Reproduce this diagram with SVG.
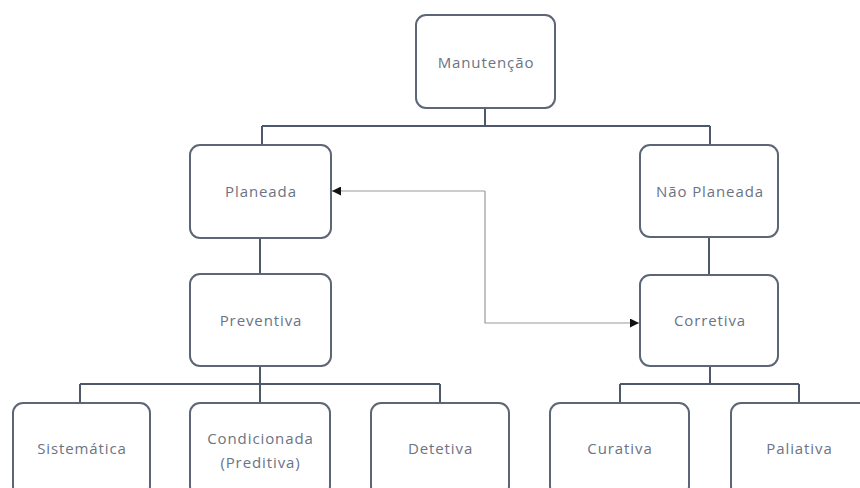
<svg xmlns="http://www.w3.org/2000/svg" width="860" height="488" viewBox="0 0 860 488">
  <defs>
    <style>
      .box { fill: #ffffff; stroke: #5d6677; stroke-width: 2; }
      .tree { fill: none; stroke: #4e586b; stroke-width: 2; }
      .link { fill: none; stroke: #9a9a9a; stroke-width: 1.2; }
      .lbl { font-family: "Open Sans", "Noto Sans", "DejaVu Sans", sans-serif; font-size: 15px; letter-spacing: 0.9px; fill: #6b7385; text-anchor: middle; dominant-baseline: central; }
    </style>
    <marker id="arrow" viewBox="0 0 10 10" refX="10" refY="5" markerWidth="9" markerHeight="9" markerUnits="userSpaceOnUse" orient="auto">
      <path d="M0,0 L10,5 L0,10 z" fill="#111111"/>
    </marker>
  </defs>

  <!-- tree connectors and cross link -->
  <g id="connectors">
    <path class="tree" d="M485,108 V126 M262,126 H710 M262,126 V145 M710,126 V145"/>
    <path class="tree" d="M260,238 V275"/>
    <path class="tree" d="M709,237 V275"/>
    <path class="tree" d="M260,366 V384 M80,384 H440 M80,384 V403 M260,384 V403 M440,384 V403"/>
    <path class="tree" d="M710,366 V384 M620,384 H799 M620,384 V403 M799,384 V403"/>
    <path class="link" d="M485,191 V323 H639" marker-end="url(#arrow)"/>
    <path class="link" d="M485,191 H332" marker-end="url(#arrow)"/>
  </g>

  <g id="manutencao">
    <rect class="box" x="416" y="15" width="139" height="93" rx="10"/>
    <text class="lbl" x="486" y="62">Manutenção</text>
  </g>
  <g id="planeada">
    <rect class="box" x="190" y="145" width="141" height="93" rx="10"/>
    <text class="lbl" x="261" y="191">Planeada</text>
  </g>
  <g id="nao-planeada">
    <rect class="box" x="640" y="145" width="138" height="92" rx="10"/>
    <text class="lbl" x="710" y="191">Não Planeada</text>
  </g>
  <g id="preventiva">
    <rect class="box" x="190" y="274" width="141" height="92" rx="10"/>
    <text class="lbl" x="261" y="320">Preventiva</text>
  </g>
  <g id="corretiva">
    <rect class="box" x="640" y="275" width="138" height="91" rx="10"/>
    <text class="lbl" x="710" y="320">Corretiva</text>
  </g>
  <g id="sistematica">
    <rect class="box" x="13" y="403" width="137" height="93" rx="10"/>
    <text class="lbl" x="82" y="448">Sistemática</text>
  </g>
  <g id="condicionada">
    <rect class="box" x="190" y="403" width="140" height="93" rx="10"/>
    <text class="lbl" x="260.5" y="438">Condicionada</text>
    <text class="lbl" x="260.5" y="462">(Preditiva)</text>
  </g>
  <g id="detetiva">
    <rect class="box" x="371" y="403" width="138" height="93" rx="10"/>
    <text class="lbl" x="440.5" y="448">Detetiva</text>
  </g>
  <g id="curativa">
    <rect class="box" x="550" y="403" width="139" height="93" rx="10"/>
    <text class="lbl" x="620" y="448">Curativa</text>
  </g>
  <g id="paliativa">
    <rect class="box" x="731" y="403" width="139" height="93" rx="10"/>
    <text class="lbl" x="799.5" y="448">Paliativa</text>
  </g>
</svg>
